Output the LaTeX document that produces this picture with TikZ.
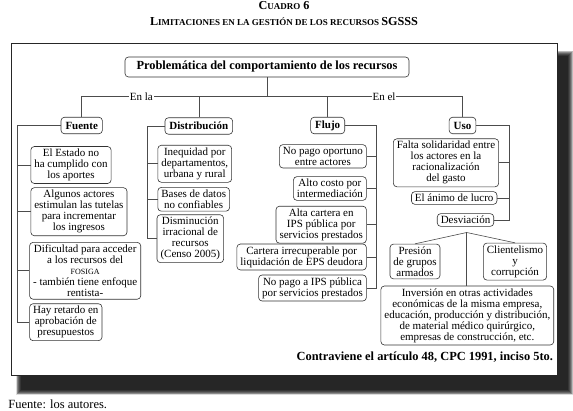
\documentclass[tikz,border=0pt]{standalone}
\usepackage{fontspec}
\setmainfont{Liberation Serif}
\newcommand{\mybigf}{\fontsize{12.2}{12}\selectfont}
\newcommand{\mysmallf}{\fontsize{9}{9}\selectfont}
\begin{document}
\begin{tikzpicture}[x=1pt,y=-1pt,
  box/.style={draw=black!80, line width=0.6pt, rounded corners=3.5pt, fill=white, align=center,
    inner xsep=3.5pt, inner ysep=2.5pt, font=\fontsize{11}{11}\selectfont},
  head/.style={box, font=\fontsize{11}{11}\selectfont\bfseries, minimum height=16.5pt, inner xsep=4.5pt},
  conn/.style={draw=black!70, line width=0.6pt},
  lbl/.style={fill=white, inner sep=1pt, font=\fontsize{11}{11}\selectfont}
]
\useasboundingbox (0,0) rectangle (573,411);
\fill[white] (0,0) rectangle (573,411);
% soft shadow of the frame
\foreach \i in {0,...,11} {
  \pgfmathsetmacro{\e}{(11-\i)*0.45}
  \fill[black, opacity=0.14] ({21-\e},{56-\e}) rectangle ({568+\e},{390+\e});
}
% frame
\draw[black!85, line width=0.8pt, fill=white] (11,43.3) rectangle (557,375.7);

% titles
\node[anchor=base, inner sep=0, font=\bfseries] (t1) at (284,9.5) {\mybigf C\mysmallf UADRO\mybigf\ 6};
\node[anchor=base, inner sep=0, font=\bfseries] (t2) at (284,25.5)
  {\mybigf L\mysmallf IMITACIONES EN LA GESTIÓN DE LOS RECURSOS \mybigf SGSSS};

% main box
\node[box, font=\fontsize{12.4}{12}\selectfont\bfseries, minimum width=284pt, minimum height=20pt] (main) at (267,67)
  {Problemática del comportamiento de los recursos};

\coordinate (top) at (267,96.7);

% headings
\node[head] (fue) at (81.7,125.5) {Fuente};
\node[head] (dis) at (198.8,126) {Distribución};
\node[head] (flu) at (327.7,125.5) {Flujo};
\node[head] (uso) at (462.5,125.5) {Uso};

\draw[conn] (main.south) -- (main.south |- top);
\draw[conn] (fue.north) -- (fue.north |- top) -- (uso.north |- top) -- (uso.north);
\draw[conn] (dis.north) -- (dis.north |- top);
\draw[conn] (flu.north) -- (flu.north |- top);
\node[lbl] (enla) at (141.3,96.7) {En la};
\node[lbl] (enel) at (384,96.7) {En el};

% Fuente items
\node[box, anchor=west] (f1) at (30.5,165) {El Estado no\\ha cumplido con\\los aportes};
\node[box, anchor=west] (f2) at (30.5,211.7) {Algunos actores\\estimulan las tutelas\\para incrementar\\los ingresos};
\node[box, anchor=west] (f3) at (29.3,270.8) {Dificultad para acceder\\a los recursos del\\{\fontsize{8}{8}\selectfont FOSIGA}\\- también tiene enfoque\\rentista-};
\node[box, anchor=west] (f4) at (29.3,322.2) {Hay retardo en\\aprobación de\\presupuestos};
\coordinate (fb) at (17,0);
\draw[conn] (fue.west) -- (fue.west -| fb) -- (f4.west -| fb) -- (f4.west);
\draw[conn] (f1.west -| fb) -- (f1.west);
\draw[conn] (f2.west -| fb) -- (f2.west);
\draw[conn] (f3.west -| fb) -- (f3.west);

% Distribucion items
\node[box, anchor=west] (d1) at (157.5,163.8) {Inequidad por\\departamentos,\\urbana y rural};
\node[box, anchor=west] (d2) at (157.5,199.3) {Bases de datos\\no confiables};
\node[box, anchor=west] (d3) at (156.7,238.7) {Disminución\\irracional de\\recursos\\(Censo 2005)};
\coordinate (db) at (147.7,0);
\draw[conn] (dis.west) -- (dis.west -| db) -- (d3.west -| db) -- (d3.west);
\draw[conn] (d1.west -| db) -- (d1.west);
\draw[conn] (d2.west -| db) -- (d2.west);

% Flujo items
\node[box, anchor=east] (l1) at (366.7,156.3) {No pago oportuno\\entre actores};
\node[box, anchor=east] (l2) at (366.7,188.5) {Alto costo por\\intermediación};
\node[box, anchor=east] (l3) at (366.7,224.7) {Alta cartera en\\IPS pública por\\servicios prestados};
\node[box, anchor=east] (l4) at (366.7,257) {Cartera irrecuperable por\\liquidación de EPS deudora};
\node[box, anchor=east] (l5) at (366.7,288) {No pago a IPS pública\\por servicios prestados};
\coordinate (lb) at (376.7,0);
\draw[conn] (flu.east) -- (flu.east -| lb) -- (l5.east -| lb) -- (l5.east);
\draw[conn] (l1.east -| lb) -- (l1.east);
\draw[conn] (l2.east -| lb) -- (l2.east);
\draw[conn] (l3.east -| lb) -- (l3.east);
\draw[conn] (l4.east -| lb) -- (l4.east);

% Uso items
\node[box] (u1) at (446,162.8) {Falta solidaridad entre\\los actores en la\\racionalización\\del gasto};
\node[box] (u2) at (454.2,198) {El ánimo de lucro};
\node[box] (u3) at (465.5,220) {Desviación};
\coordinate (ub) at (509.3,0);
\draw[conn] (uso.east) -- (uso.east -| ub) -- (u3.east -| ub) -- (u3.east);
\draw[conn] (u1.east -| ub) -- (u1.east);
\draw[conn] (u2.east -| ub) -- (u2.east);

% Desviacion branches
\node[box] (pre) at (415,261.5) {Presión\\de grupos\\armados};
\node[box] (cli) at (515,261.6) {Clientelismo\\y\\corrupción};
\node[box] (inv) at (467.3,315.5) {Inversión en otras actividades\\económicas de la misma empresa,\\educación, producción y distribución,\\de material médico quirúrgico,\\empresas de construcción, etc.};
\coordinate (br) at (466.7,232.5);
\draw[conn] (pre.north) -- (br) -- (cli.north);
\draw[conn] (br) -- (br |- inv.north);

\node[inner sep=0, font=\fontsize{12.4}{12}\selectfont\bfseries] (contra) at (424.8,357.5)
  {Contraviene el artículo 48, CPC 1991, inciso 5to.};

\node[anchor=west, inner sep=0, font=\fontsize{12.5}{12}\selectfont] (src) at (8.3,404) {Fuente: los autores.};
\end{tikzpicture}
\end{document}
